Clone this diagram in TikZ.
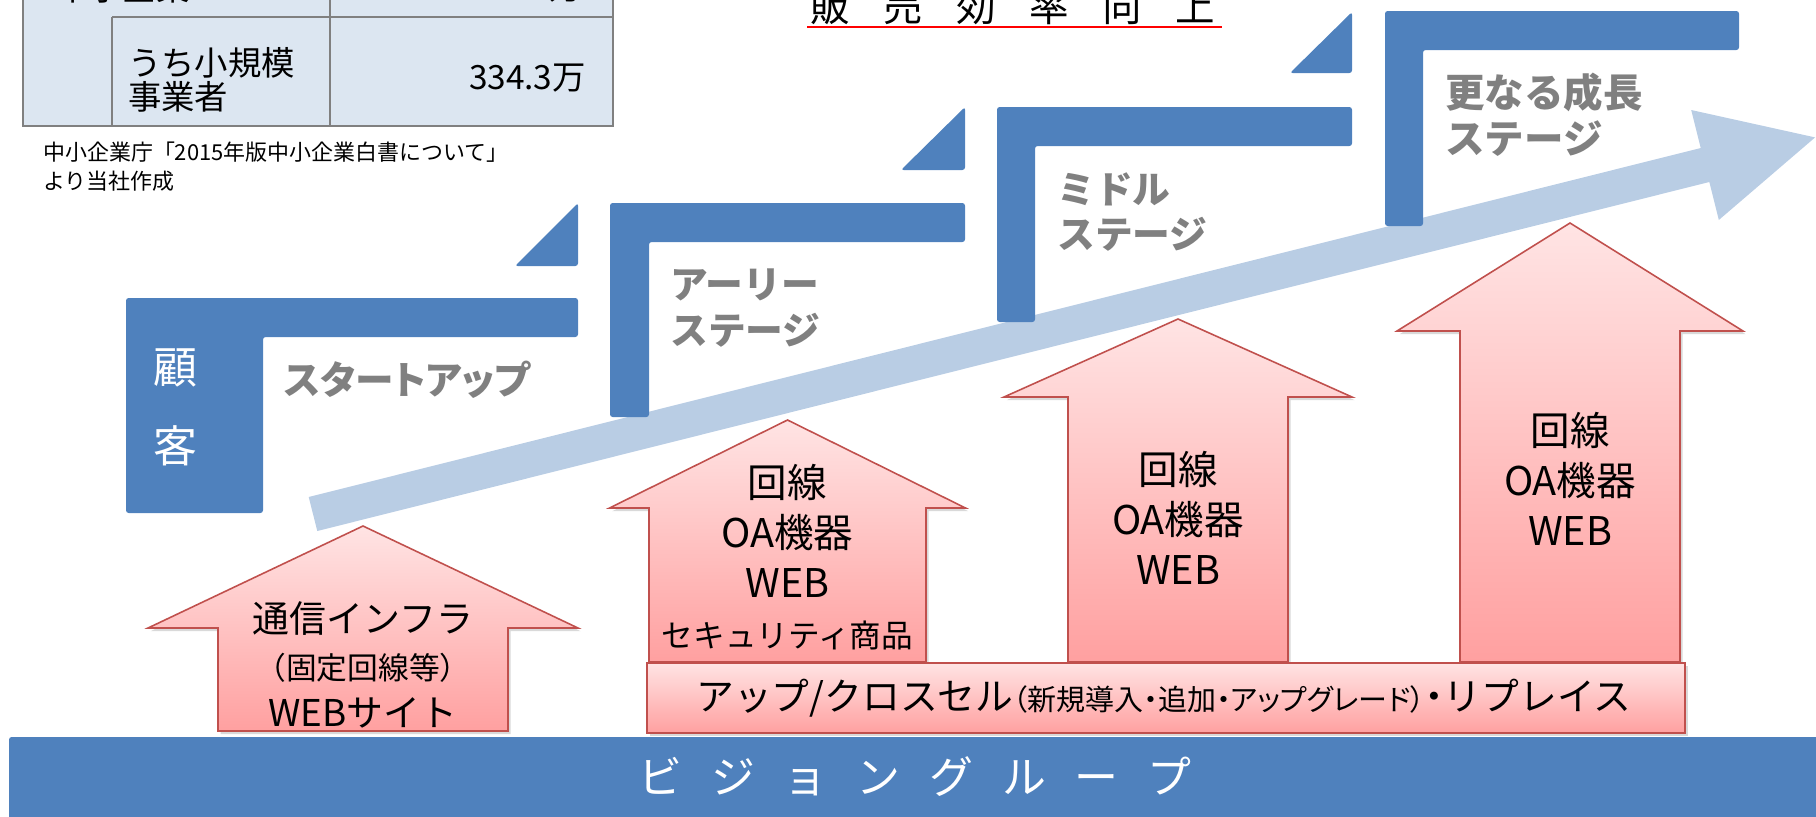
\documentclass[tikz,border=0pt]{standalone}
\usepackage{fontspec}
\setmainfont{Noto Sans CJK JP}
\usetikzlibrary{positioning, shadows}
\definecolor{stepblue}{RGB}{79,129,189}
\definecolor{trendblue}{RGB}{185,205,228}
\definecolor{pinktop}{RGB}{255,228,228}
\definecolor{pinkbot}{RGB}{255,160,160}
\definecolor{pinkline}{RGB}{192,80,77}
\definecolor{tablefill}{RGB}{220,230,241}
\definecolor{tableline}{RGB}{128,128,128}
\definecolor{stagegray}{RGB}{128,128,128}
\newcommand\titlegap{\hspace{19pt}}
\newcommand\bandgap{\hspace{16.4pt}}
% up arrow: centre x, tip y, barb y, bottom y, half head, half shaft
\newcommand\houseup[6]{%
  \draw[house] (#1,#2) -- (#1+#5,#3) -- (#1+#6,#3) -- (#1+#6,#4)
    -- (#1-#6,#4) -- (#1-#6,#3) -- (#1-#5,#3) -- cycle;}

\begin{document}
\begin{tikzpicture}[
    x=0.02cm, y=-0.02cm,
    house/.style={top color=pinktop, bottom color=pinkbot, draw=pinkline, line width=0.9pt,
      drop shadow={shadow xshift=1.5pt, shadow yshift=-1.8pt, opacity=0.3}},
    stage/.style={font=\fontsize{21.5}{26}\selectfont\bfseries, text=stagegray, align=left, anchor=west, inner sep=0pt},
    cell/.style={font=\fontsize{19}{19.5}\selectfont},
    itemtext/.style={font=\fontsize{22.5}{28.4}\selectfont, align=center}
]
    \useasboundingbox (0,0) rectangle (1816,816);
    \clip (0,0) rectangle (1816,816);

    % Table
    \draw[fill=tablefill, draw=tableline, line width=1pt] (23,-120) rectangle (613,126);
    \draw[tableline, line width=1pt] (112,17) -- (613,17);
    \draw[tableline, line width=1pt] (112,17) -- (112,126);
    \draw[tableline, line width=1pt] (330,-120) -- (330,126);
    \node[cell, anchor=west] (smes) at (50,-12) {中小企業};
    \node[cell, anchor=east] (smesval) at (589,-12) {380.9万};
    \node[cell, anchor=west, align=left] (smallbiz) at (122,80) {うち小規模\\事業者};
    \node[cell, anchor=east] (smallbizval) at (592,78) {334.3万};
    \node[anchor=west, align=left, font=\fontsize{12.5}{16.4}\selectfont] (source) at (37,167)
        {中小企業庁「2015年版中小企業白書について」\\より当社作成};

    % Title
    \node[anchor=base, font=\fontsize{22.5}{26}\selectfont] (title) at (1013,21)
        {販\titlegap 売\titlegap 効\titlegap 率\titlegap 向\titlegap 上};
    \draw[red, line width=1.3pt] (807,27) -- (1222,27);

    % Trend arrow
    \fill[trendblue] (308.7,497) -- (1700.7,148) -- (1691.2,110) -- (1815.1,137.4)
        -- (1718.8,220) -- (1709.3,182) -- (317.3,531) -- cycle;

    % Steps
    \fill[stepblue, rounded corners=1.5pt] (126,298) -- (578,298) -- (578,337) -- (263,337) -- (263,513) -- (126,513) -- cycle;
    \fill[stepblue, rounded corners=1.5pt] (578,203) -- (578,266) -- (515,266) -- cycle;
    \fill[stepblue, rounded corners=1.5pt] (610,203) -- (965,203) -- (965,242) -- (649,242) -- (649,417) -- (610,417) -- cycle;
    \fill[stepblue, rounded corners=1.5pt] (965,107) -- (965,170) -- (901,170) -- cycle;
    \fill[stepblue, rounded corners=1.5pt] (997,107) -- (1352,107) -- (1352,146) -- (1035,146) -- (1035,322) -- (997,322) -- cycle;
    \fill[stepblue, rounded corners=1.5pt] (1352,12) -- (1352,73) -- (1290,73) -- cycle;
    \fill[stepblue, rounded corners=1.5pt] (1385,11) -- (1739,11) -- (1739,50) -- (1423,50) -- (1423,226) -- (1385,226) -- cycle;

    % Stage labels
    \node[text=white, font=\fontsize{25}{45}\selectfont, align=center] (customer) at (175,407) {顧\\客};
    \node[stage, font=\fontsize{22}{26}\selectfont\bfseries\addfontfeature{RawFeature=+palt}] (startup) at (284,380) {スタートアップ};
    \node[stage] (early) at (670,308) {アーリー\\ステージ};
    \node[stage] (middle) at (1057,212) {ミドル\\ステージ};
    \node[stage, font=\fontsize{22.5}{26}\selectfont\bfseries] (further) at (1445,115) {更なる成長\\ステージ};

    % Base band
    \fill[stepblue, rounded corners=1.5pt] (9,737) rectangle (1830,830);
    \node[text=white, font=\fontsize{25}{30}\selectfont] (vision) at (915,777)
        {ビ\bandgap ジ\bandgap ョ\bandgap ン\bandgap グ\bandgap ル\bandgap ー\bandgap プ};

    % Up arrows
    \houseup{363}{526}{628}{731}{215}{145}
    \houseup{787.5}{420}{508}{662}{178}{138.5}
    \houseup{1178}{319}{397}{662}{174}{110}
    \houseup{1570}{223}{331}{662}{173}{110}
    \draw[house] (647,663) rectangle (1685,733);

    % Arrow texts
    \node[itemtext, font=\fontsize{21}{26.8}\selectfont] (infra) at (363,665)
        {通信インフラ\\{\fontsize{17.5}{26.8}\selectfont（固定回線等）}\\WEBサイト};
    \node[itemtext] (early items) at (787.5,557)
        {回線\\OA機器\\WEB\\{\fontsize{18}{28.4}\selectfont セキュリティ商品}};
    \node[itemtext] (middle items) at (1178,518) {回線\\OA機器\\WEB};
    \node[itemtext] (further items) at (1570,479) {回線\\OA機器\\WEB};
    \node[font=\fontsize{21.5}{24}\selectfont] (crosssell) at (1164,698)
        {アップ/クロスセル{\fontsize{16.5}{20}\selectfont\addfontfeature{RawFeature=+palt}（新規導入・追加・アップグレード）}{\addfontfeature{RawFeature=+palt}・}リプレイス};
\end{tikzpicture}
\end{document}
